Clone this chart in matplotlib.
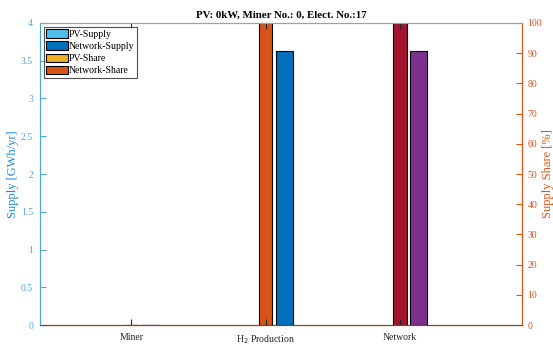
import matplotlib.pyplot as plt
import numpy as np

plt.rcParams['font.family'] = ['Liberation Serif', 'DejaVu Serif']
plt.rcParams['font.size'] = 7

categories = ['Miner', 'H$_2$ Production', 'Network']
pv_supply = [0.0, 0.0, 0.0]
network_supply = [0.0, 3.63, 3.63]
pv_share = [0.0, 0.0, 0.0]
network_share = [0.0, 100.0, 100.0]

c_pv_sup = '#4DBEEE'
c_net_sup = '#0072BD'
c_pv_sh = '#EDB120'
c_net_sh = '#D95319'
# the Network group gets its own colours
net_sup_cols = [c_net_sup, c_net_sup, '#7E2F8E']
net_sh_cols = [c_net_sh, c_net_sh, '#A2142F']

x = np.arange(1, len(categories) + 1)

fig = plt.figure(figsize=(5.53, 3.48), dpi=100)
ax = fig.add_axes([0.0723, 0.066, 0.8717, 0.868])
ax2 = ax.twinx()
ax.set_zorder(ax2.get_zorder() + 1)
ax.patch.set_visible(False)

# supply bars on the left axis
ax.bar(x + 0.14, pv_supply, 0.13, color=c_pv_sup, edgecolor='k', lw=0.8, label='PV-Supply')
ax.bar(x + 0.14, network_supply, 0.13, bottom=pv_supply, color=net_sup_cols,
       edgecolor='k', lw=0.8, label='Network-Supply')
# share bars on the right axis
ax2.bar(x, pv_share, 0.1, color=c_pv_sh, edgecolor='k', lw=0.8, label='PV-Share')
ax2.bar(x, network_share, 0.1, bottom=pv_share, color=net_sh_cols,
        edgecolor='k', lw=0.8, label='Network-Share')

ax.set_xlim(0.32, 3.91)
ax.set_ylim(0, 4)
ax2.set_ylim(0, 100)
ax.set_xticks(x)
ax.set_xticklabels(categories)
ax.set_yticks(np.arange(0, 4.01, 0.5))
ax.set_yticklabels(['0', '0.5', '1', '1.5', '2', '2.5', '3', '3.5', '4'])
ax2.set_yticks(np.arange(0, 101, 10))

lc = '#4DA6E0'
rc = '#D95319'
ax.tick_params(axis='y', colors=lc, direction='in', length=4, labelsize=7, pad=5)
ax.tick_params(axis='x', direction='in', length=4, top=True, labelsize=7, colors='#262626', pad=6)
ax2.tick_params(axis='y', colors=rc, direction='in', length=4, labelsize=7, pad=4)
for a in (ax, ax2):
    a.spines['top'].set_color('#A0A0A0')
    a.spines['bottom'].set_color('#8B4513')
    a.spines['left'].set_color(lc)
    a.spines['right'].set_color(rc)
    for s in a.spines.values():
        s.set_linewidth(0.8)

ax.set_ylabel('Supply [GWh/yr]', color='#1A8AD4', fontsize=9, labelpad=1)
ax2.set_ylabel('Supply Share [%]', color=rc, fontsize=9, labelpad=0)
ax.set_title('PV: 0kW, Miner No.: 0, Elect. No.:17', fontweight='bold', fontsize=7.8, pad=4)

h1, l1 = ax.get_legend_handles_labels()
h2, l2 = ax2.get_legend_handles_labels()
leg = ax.legend(h1 + h2, l1 + l2, loc='upper left', fontsize=7, frameon=True,
                fancybox=False, edgecolor='#262626', handlelength=2.2, handleheight=1.0,
                handletextpad=0.1, labelspacing=0.25, borderpad=0.25, borderaxespad=0.4)
leg.get_frame().set_linewidth(0.8)
for h in leg.legend_handles:
    h.set_edgecolor('k')
leg.legend_handles[1].set_facecolor(c_net_sup)
leg.legend_handles[3].set_facecolor(c_net_sh)

fig.savefig('out.png', dpi=100)
